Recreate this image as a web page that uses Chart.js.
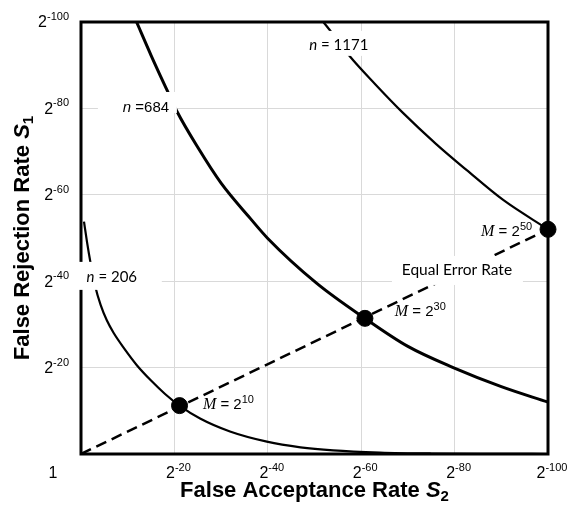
<!DOCTYPE html>
<html>
<head>
<meta charset="utf-8">
<script src="https://cdn.jsdelivr.net/npm/chart.js@4.4.1/dist/chart.umd.min.js"></script>
<style>
  html, body { margin: 0; padding: 0; background: #fff; }
  canvas { display: block; }
</style>
</head>
<body>
<canvas id="chart" width="568" height="510"></canvas>
<script>
// axes show -log2 of the rate: 0 => 1, 20 => 2^-20, ...
const tickValues = [0, 20, 40, 60, 80, 100];
const tickExponents = ["", "-20", "-40", "-60", "-80", "-100"];

// n = 206
const s2N206 = [0.64, 1.3, 2.0, 3.0, 4.2, 5.5, 7.0, 9.0, 12, 15, 18, 21.1, 25.5, 31.9, 39.8, 47, 54, 64, 75, 88, 100];
const s1N206 = [53.8, 49.0, 44.5, 39.0, 34.5, 31.0, 28.0, 24.8, 20.5, 17.0, 13.9, 11.2, 8.2, 5.2, 2.85, 1.55, 0.85, 0.35, 0.12, 0.03, 0];

// n = 684
const s2N684 = [11.9, 15, 18.3, 20.5, 25, 30, 36.2, 40, 50.5, 60.8, 70, 79.7, 90, 100];
const s1N684 = [100, 92.3, 84.5, 79.4, 71, 62.7, 54.6, 49.9, 39.5, 31.4, 24.9, 20.0, 15.6, 12];

// n = 1171
const s2N1171 = [51.9, 53.3, 57.6, 63, 69, 76, 82.6, 90.4, 100];
const s1N1171 = [100, 98.1, 92.0, 85.6, 78.9, 71.8, 65.7, 58.8, 52];

// equal error rate line and the M points on it
const eerS2 = [0, 100];
const eerS1 = [0, 52];
const mS2 = [21.1, 60.8, 100];
const mS1 = [11.2, 31.4, 52];
const mExponents = ["10", "30", "50"];

const SANS = "'Liberation Sans', Arial, sans-serif";
const CAL = "Lato, 'Open Sans', sans-serif";
const SERIF = "'Liberation Serif', 'Times New Roman', serif";

const pts = (xs, ys) => xs.map((x, i) => ({ x, y: ys[i] }));

const mLabel = (e) => [
  ["M", "italic 16px " + SERIF],
  [" = 2", "15px " + SANS],
  [e, "11px " + SANS, -5],
];

// text labels: anchor in data units, white box as [dx, dy, w, h] in px around it
const notes = [
  { at: [55.2, 94.7], align: "center", box: [-34, -14, 67, 25],
    parts: [["n", "italic 15px " + CAL], [" = 1171", "15px " + CAL]] },
  { at: [13.9, 80.1], align: "center", box: [-48, -16, 79, 21],
    parts: [["n", "italic 15px " + SANS], [" =684", "15px " + SANS]] },
  { at: [6.6, 41.0], align: "center", box: [-33, -15, 83, 28],
    parts: [["n", "italic 15px " + CAL], [" = 206", "15px " + CAL]] },
  { at: [80.5, 42.6], align: "center", box: [-65, -14, 131, 29],
    parts: [["Equal Error Rate", "15.5px " + CAL]] },
  { at: [26.1, 11.3], align: "left", parts: mLabel(mExponents[0]) },
  { at: [67.2, 32.9], align: "left", parts: mLabel(mExponents[1]) },
  { at: [96.6, 51.4], align: "right", parts: mLabel(mExponents[2]) },
];

function drawParts(ctx, parts, x, y, align) {
  let w = 0;
  parts.forEach(p => { ctx.font = p[1]; w += ctx.measureText(p[0]).width; });
  let cx = align === "center" ? x - w / 2 : align === "right" ? x - w : x;
  ctx.textAlign = "left";
  ctx.textBaseline = "middle";
  parts.forEach(p => {
    ctx.font = p[1];
    ctx.fillText(p[0], cx, y + (p[2] || 0));
    cx += ctx.measureText(p[0]).width;
  });
}

const tickParts = (e) => [["2", "16px " + SANS], [e, "11px " + SANS, -6]];

const decorPlugin = {
  id: "decor",
  afterDatasetsDraw(chart) {
    const { ctx, chartArea: a, scales } = chart;
    const sx = scales.x, sy = scales.y;
    ctx.save();

    // plot frame
    ctx.strokeStyle = "#000";
    ctx.lineWidth = 3;
    ctx.strokeRect(a.left, a.top, a.right - a.left, a.bottom - a.top);

    // labels with white boxes
    notes.forEach(n => {
      const px = sx.getPixelForValue(n.at[0]);
      const py = sy.getPixelForValue(n.at[1]);
      if (n.box) {
        ctx.fillStyle = "#fff";
        ctx.fillRect(px + n.box[0], py + n.box[1], n.box[2], n.box[3]);
      }
      ctx.fillStyle = "#000";
      drawParts(ctx, n.parts, px, py, n.align);
    });

    // tick labels
    ctx.fillStyle = "#000";
    tickValues.forEach((v, i) => {
      const e = tickExponents[i];
      const xp = sx.getPixelForValue(v);
      if (e === "") {
        drawParts(ctx, [["1", "16px " + SANS]], xp - 28, a.bottom + 20, "center");
      } else {
        drawParts(ctx, tickParts(e), xp + 4, a.bottom + 20, "center");
        drawParts(ctx, tickParts(e), a.left - 12, sy.getPixelForValue(v) + 1, "right");
      }
    });

    // axis titles
    drawParts(ctx, [
      ["False Acceptance Rate ", "bold 22px " + SANS],
      ["S", "italic bold 22px " + SANS],
      ["2", "bold 15px " + SANS, 6],
    ], (a.left + a.right) / 2, a.bottom + 37, "center");

    ctx.translate(23, (a.top + a.bottom) / 2);
    ctx.rotate(-Math.PI / 2);
    drawParts(ctx, [
      ["False Rejection Rate ", "bold 22px " + SANS],
      ["S", "italic bold 22px " + SANS],
      ["1", "bold 15px " + SANS, 6],
    ], 0, 0, "center");

    ctx.restore();
  },
};

const curve = (label, xs, ys, width) => ({
  label,
  data: pts(xs, ys),
  showLine: true,
  borderColor: "#000",
  borderWidth: width,
  pointRadius: 0,
  cubicInterpolationMode: "monotone",
});

new Chart(document.getElementById("chart").getContext("2d"), {
  type: "scatter",
  data: {
    datasets: [
      curve("n = 206", s2N206, s1N206, 2.2),
      curve("n = 684", s2N684, s1N684, 3),
      curve("n = 1171", s2N1171, s1N1171, 2.2),
      {
        label: "Equal Error Rate",
        data: pts(eerS2, eerS1),
        showLine: true,
        borderColor: "#000",
        borderWidth: 2.5,
        borderDash: [11, 6],
        pointRadius: 0,
      },
      {
        label: "M",
        data: pts(mS2, mS1),
        pointRadius: 8,
        pointHoverRadius: 8,
        backgroundColor: "#000",
        borderColor: "#000",
        clip: false,
      },
    ],
  },
  options: {
    responsive: false,
    animation: false,
    devicePixelRatio: 1,
    events: [],
    layout: { padding: { top: 22, right: 20, left: 0, bottom: 0 } },
    plugins: { legend: { display: false }, tooltip: { enabled: false } },
    scales: {
      x: {
        type: "linear",
        min: 0,
        max: 100,
        afterFit: (s) => { s.height = 56; },
        afterBuildTicks: (s) => { s.ticks = tickValues.map(v => ({ value: v })); },
        ticks: { display: false },
        grid: { color: "#d9d9d9", lineWidth: 1, drawTicks: false },
        border: { display: false },
      },
      y: {
        type: "linear",
        min: 0,
        max: 100,
        afterFit: (s) => { s.width = 81; },
        afterBuildTicks: (s) => { s.ticks = tickValues.map(v => ({ value: v })); },
        ticks: { display: false },
        grid: { color: "#d9d9d9", lineWidth: 1, drawTicks: false },
        border: { display: false },
      },
    },
  },
  plugins: [decorPlugin],
});
</script>
</body>
</html>
